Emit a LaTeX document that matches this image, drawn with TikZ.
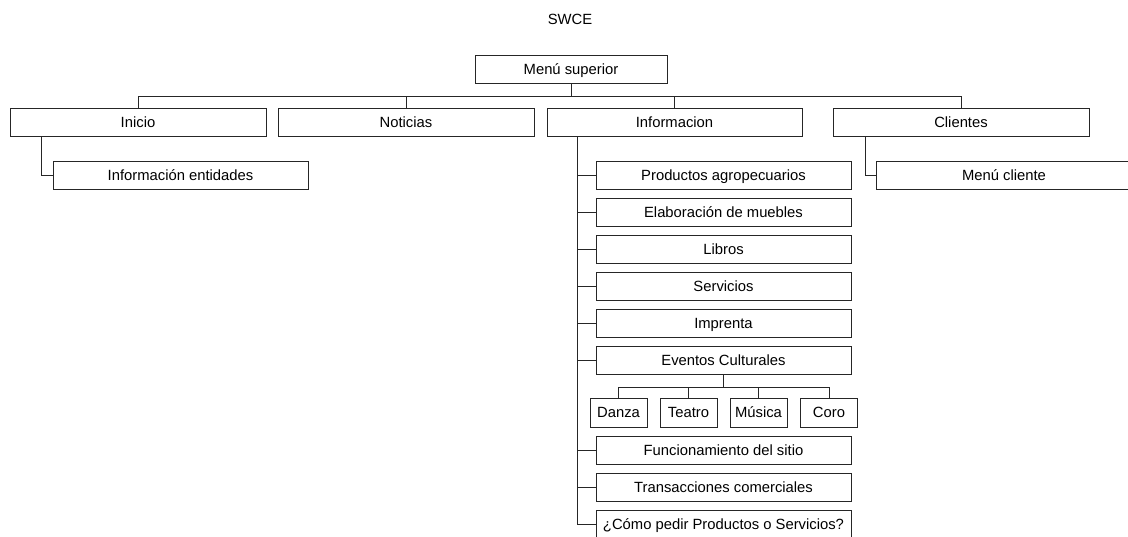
\documentclass[tikz,border=0pt]{standalone}
\usepackage{fontspec}
\setmainfont{Liberation Sans}
\begin{document}
\begin{tikzpicture}[x=1pt,y=-1pt,
  lbl/.style={font=\fontsize{14.8}{17}\selectfont},
  menubox/.style={lbl,draw=black!85,line width=1pt,minimum height=28pt,inner sep=0pt,
    text height=13.6pt,text depth=3pt,anchor=center},
  wide/.style={menubox,minimum width=256pt},
  sub/.style={menubox,minimum width=57pt,minimum height=29pt},
  link/.style={draw=black!85,line width=1pt}]
\useasboundingbox (0,0) rectangle (1128,536);

\node[lbl] (title) at (570,19) {SWCE};
\node[menubox,minimum width=192pt] (top) at (571,69) {Menú superior};

% first level
\node[wide] (inicio) at (138,122) {Inicio};
\node[wide] (noticias) at (406,122) {Noticias};
\node[wide,minimum width=255pt] (info) at (674.5,122) {Informacion};
\node[wide] (clientes) at (961,122) {Clientes};

% second level
\node[wide,minimum width=255pt] (entidades) at (180.5,175) {Información entidades};
\node[wide] (menucli) at (1004,175) {Menú cliente};

\node[wide,minimum width=255pt] (prod) at (723.5,175) {Productos agropecuarios};
\node[wide,minimum width=255pt] (mueb) at (723.5,212) {Elaboración de muebles};
\node[wide,minimum width=255pt] (libros) at (723.5,249) {Libros};
\node[wide,minimum width=255pt] (serv) at (723.5,286) {Servicios};
\node[wide,minimum width=255pt] (impr) at (723.5,323) {Imprenta};
\node[wide,minimum width=255pt] (event) at (723.5,360) {Eventos Culturales};
\node[wide,minimum width=255pt] (func) at (723.5,450) {Funcionamiento del sitio};
\node[wide,minimum width=255pt] (trans) at (723.5,487) {Transacciones comerciales};
\node[wide,minimum width=255pt] (como) at (723.5,524) {¿Cómo pedir Productos o Servicios?};

% cultural events
\node[sub] (danza) at (618.5,412.5) {Danza};
\node[sub] (teatro) at (688.5,412.5) {Teatro};
\node[sub] (musica) at (758.5,412.5) {Música};
\node[sub] (coro) at (829,412.5) {Coro};

% top bus
\coordinate (bus) at (571,96);
\draw[link] (top.south) -- (bus);
\draw[link] (inicio.north) -- (inicio.north |- bus) -- (clientes.north |- bus) -- (clientes.north);
\draw[link] (noticias.north) -- (noticias.north |- bus);
\draw[link] (info.north) -- (info.north |- bus);

% side rails
\draw[link] ([xshift=-97pt]inicio.south) |- (entidades.west);
\draw[link] ([xshift=-96pt]clientes.south) |- (menucli.west);

\coordinate (rail) at ([xshift=-97.5pt]info.south);
\draw[link] (rail) |- (como.west);
\foreach \n in {prod,mueb,libros,serv,impr,event,func,trans}
  \draw[link] (rail |- \n.west) -- (\n.west);

% events bus
\coordinate (ebus) at (723.5,387);
\draw[link] (event.south) -- (ebus);
\draw[link] (danza.north) -- (danza.north |- ebus) -- (coro.north |- ebus) -- (coro.north);
\draw[link] (teatro.north) -- (teatro.north |- ebus);
\draw[link] (musica.north) -- (musica.north |- ebus);
\end{tikzpicture}
\end{document}
